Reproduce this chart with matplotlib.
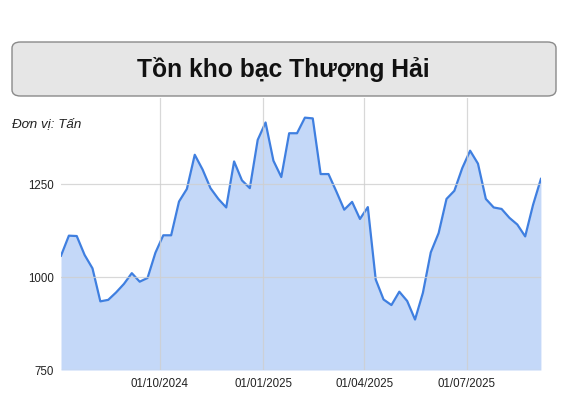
import matplotlib
matplotlib.use("Agg")
import matplotlib.pyplot as plt
import matplotlib.dates as mdates
from matplotlib.patches import FancyBboxPatch
import pandas as pd

# weekly silver stock, Shanghai (tonnes)
stock = [1058, 1112, 1111, 1060, 1024, 935, 939, 959, 982, 1011,
         988, 998, 1066, 1113, 1113, 1204, 1238, 1330, 1290, 1240,
         1211, 1188, 1312, 1261, 1240, 1370, 1417, 1314, 1270, 1388,
         1388, 1430, 1428, 1278, 1278, 1231, 1182, 1203, 1157, 1189,
         994, 940, 925, 961, 936, 886, 958, 1067, 1119, 1211,
         1233, 1294, 1341, 1306, 1211, 1188, 1184, 1160, 1142, 1110,
         1195, 1265]
dates = pd.date_range("2024-07-05", periods=len(stock), freq="7D")
tick_dates = pd.to_datetime(["2024-10-01", "2025-01-01", "2025-04-01", "2025-07-01"])
yticks = [750, 1000, 1250]

plt.rcParams['font.family'] = ['Liberation Sans', 'DejaVu Sans']

fig = plt.figure(figsize=(5.67, 4.15), dpi=100)
ax = fig.add_axes([0.1076, 0.1084, 0.8464, 0.6555])

ax.fill_between(dates, stock, 750, color='#c4d8f8', lw=0)
ax.plot(dates, stock, color='#3f7fe0', lw=1.6, solid_joinstyle='round')

ax.set_xlim(dates[0], dates[-1])
ax.set_ylim(750, 1483)
ax.set_yticks(yticks)
ax.set_yticklabels([str(v) for v in yticks], fontsize=8.3, color='#222222')
ax.set_xticks(tick_dates)
ax.xaxis.set_major_formatter(mdates.DateFormatter('%d/%m/%Y'))
ax.tick_params(axis='x', labelsize=8.3, colors='#222222', length=0, pad=6)
ax.tick_params(axis='y', length=0, pad=5)
ax.grid(True, color='#cfcfcf', lw=0.9)
ax.set_axisbelow(False)
for gl in ax.get_xgridlines() + ax.get_ygridlines():
    gl.set_alpha(0.8)
for s in ax.spines.values():
    s.set_visible(False)

# title box
box = FancyBboxPatch((12 / 567, 1 - 96 / 415), 544 / 567, 54 / 415,
                     boxstyle="round,pad=0,rounding_size=0.015",
                     transform=fig.transFigure, facecolor='#e6e6e6',
                     edgecolor='#8a8a8a', lw=1.0, zorder=5)
fig.patches.append(box)
fig.text(0.5, 1 - 69 / 415, "Tồn kho bạc Thượng Hải", ha='center', va='center',
         fontsize=17.7, fontweight='bold', color='#111111', zorder=6)
fig.text(12 / 567, 1 - 124 / 415, "Đơn vị: Tấn", ha='left', va='center',
         fontsize=9.6, style='italic', color='#222222')

fig.savefig("out.png", dpi=100)
